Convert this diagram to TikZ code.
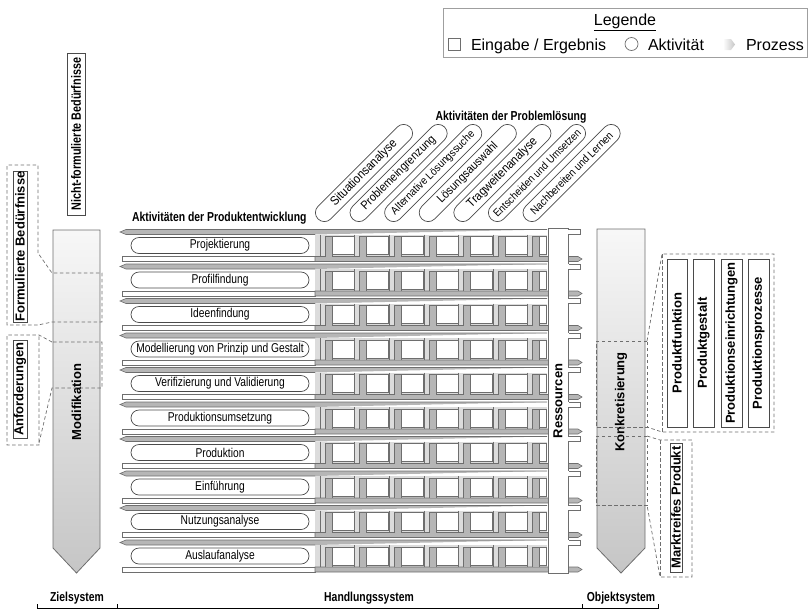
\documentclass[tikz,border=0pt]{standalone}
\usepackage{fontspec}
\setmainfont{Liberation Sans}
\newfontfamily\narrowfont[FakeStretch=0.8]{Liberation Sans}
\newfontfamily\semifont[FakeStretch=0.9]{Liberation Sans}
\usetikzlibrary{calc}

\definecolor{edge}{HTML}{6E6E6E}
\definecolor{darkedge}{HTML}{4A4A4A}
\definecolor{procgrey}{HTML}{B6B6B6}
\definecolor{combgrey}{HTML}{DCDCDC}

\begin{document}
\begin{tikzpicture}[x=1pt,y=-1pt,
  every node/.style={inner sep=0pt,outer sep=0pt},
  frame/.style={draw=edge,line width=0.8pt},
  callout/.style={draw=edge,dash pattern=on 3.5pt off 2.5pt,line width=0.7pt},
  activity/.style={draw=darkedge,fill=white,rounded corners=8pt,line width=0.7pt,
    minimum height=16pt,font=\narrowfont\fontsize{12.8}{14}\selectfont},
  stepact/.style={draw=darkedge,fill=white,rounded corners=9pt,line width=0.7pt,
    minimum height=18pt,minimum width=130pt,rotate=45},
  resultbox/.style={draw=darkedge,fill=white,line width=0.8pt,rotate=90,
    font=\fontsize{13}{15}\selectfont\bfseries},
  headline/.style={font=\narrowfont\fontsize{13}{15}\selectfont\bfseries},
  boldlabel/.style={font=\fontsize{13}{15}\selectfont\bfseries},
  legendtext/.style={font=\fontsize{16}{18}\selectfont}]

\useasboundingbox (0,0) rectangle (808,611);

% ---------- Legend ----------
\draw[draw=gray!75,line width=0.9pt] (443,8) rectangle (807,57);
\node[legendtext,anchor=base] (legtitle) at (625,25) {\underline{Legende}};
\node[draw=edge,minimum size=12pt,line width=0.7pt] (legsq) at (454,44) {};
\node[legendtext,anchor=base west] (legin) at (471,50) {Eingabe / Ergebnis};
\node[draw=edge,circle,minimum size=13pt,line width=0.7pt] (legcirc) at (631.5,44) {};
\node[legendtext,anchor=base west] (legact) at (648,50) {Aktivität};
\shade[left color=white,right color=gray!45] (723,39) -- (731,39) -- (735,44.5) -- (731,50) -- (723,50) -- cycle;
\node[legendtext,anchor=base west] (legproc) at (746,50) {Prozess};

% ---------- Goal system column ----------
\shade[top color=white!97!black,bottom color=gray!45,draw=edge,line width=0.8pt]
  (53,230) -- (100,230) -- (100,548) -- (76.5,573) -- (53,548) -- cycle;
\node[boldlabel,rotate=90] (modi) at (76.5,402) {Modifikation};

\node[draw=darkedge,fill=white,line width=0.8pt,rotate=90,minimum width=162pt,minimum height=18pt,
  font=\narrowfont\fontsize{13.5}{15}\selectfont\bfseries] (nichtform) at (76,134) {Nicht-formulierte Bedürfnisse};
\node[resultbox,minimum width=151pt,minimum height=14pt] (form) at (20,246.5) {Formulierte Bedürfnisse};
\node[resultbox,minimum width=98pt,minimum height=14pt] (anf) at (20,389) {Anforderungen};

% callout: Formulierte Beduerfnisse
\draw[callout] (38,253) -- (38,165) -- (7,165) -- (7,325) -- (38,325) -- (52,322) -- (102,322) -- (102,273) -- (52,273) -- cycle;
% callout: Anforderungen
\draw[callout] (52,342) -- (39,335) -- (7,335) -- (7,445) -- (39,445) -- (39,335);
\draw[callout] (39,443) -- (52,388) -- (102,388) -- (102,342) -- (52,342);

% ---------- Object system column ----------
\shade[top color=white!97!black,bottom color=gray!45,draw=edge,line width=0.8pt]
  (597,229) -- (645,229) -- (645,548) -- (621,573) -- (597,548) -- cycle;
\node[boldlabel,rotate=90] (konk) at (621,402) {Konkretisierung};

\draw[callout] (647,341) -- (596,341) -- (596,427) -- (647,427) -- cycle;
\draw[callout] (647,341) -- (662,254) -- (774,254) -- (774,432) -- (662,432) -- (647,427);
\draw[callout] (662,254) -- (662,432);
\node[resultbox,minimum width=168pt,minimum height=20pt] (pf) at (677,343) {Produktfunktion};
\node[resultbox,minimum width=168pt,minimum height=21pt] (pg) at (703.5,343) {Produktgestalt};
\node[resultbox,minimum width=168pt,minimum height=21pt] (pe) at (731.5,343) {Produktionseinrichtungen};
\node[resultbox,minimum width=168pt,minimum height=21pt] (pp) at (758.5,343) {Produktionsprozesse};

\draw[callout] (647,436) -- (596,436) -- (596,505) -- (647,505) -- cycle;
\draw[callout] (647,436) -- (660,440) -- (692,440) -- (692,577) -- (660,577) -- (647,505);
\draw[callout] (660,440) -- (660,577);
\node[resultbox,minimum width=129pt,minimum height=12pt] (markt) at (676,507.5) {Marktreifes Produkt};

% ---------- Activities of problem solving ----------
\node[headline,anchor=base] (pshead) at (511,120) {Aktivitäten der Problemlösung};
\foreach \lab/\fs [count=\k from 0, evaluate=\k as \px using 364+34.6*\k] in
  {Situationsanalyse/12.5,Problemeingrenzung/12,Alternative Lösungssuche/11,Lösungsauswahl/12,
   Tragweitenanalyse/12.5,Entscheiden und Umsetzen/10.8,Nachbereiten und Lernen/11}
  \node[stepact,font=\semifont\fontsize{\fs}{13}\selectfont] (ps\k) at (\px,173) {\lab};

% ---------- Activities of product development (rows) ----------
\node[headline,anchor=base west] (pdhead) at (132,221.5) {Aktivitäten der Produktentwicklung};

\foreach \lab [count=\i from 0, evaluate=\i as \c using 245.5+34.5*\i] in
  {Projektierung,Profilfindung,Ideenfindung,Modellierung von Prinzip und Gestalt,
   Verifizierung und Validierung,Produktionsumsetzung,Produktion,Einführung,
   Nutzungsanalyse,Auslaufanalyse}
{
  % comb background
  \fill[combgrey] (315,\c-11) rectangle (547,\c+11);
  % white feedback bar on the left
  \draw[frame,fill=white] (122,\c+11) rectangle (315,\c+16);
  % process running to the right along the bottom
  \draw[draw=edge,fill=procgrey,line width=0.6pt]
    (315,\c+11) -- (578,\c+11) -- (582,\c+13.5) -- (578,\c+16) -- (315,\c+16) -- cycle;
  % process running to the left along the top
  \draw[draw=edge,fill=procgrey,line width=0.6pt]
    (547,\c-16) -- (126,\c-16) -- (120,\c-13.5) -- (126,\c-11) -- (315,\c-11);
  % interlocking teeth
  \foreach \k in {0,...,6}
  {
    \pgfmathsetmacro\xa{320+34.6*\k}
    \pgfmathsetmacro\xb{min(320+34.6*\k+34,546)}
    \draw[edge,line width=0.5pt] (\xa,\c-11) -- (\xa,\c+11);
    \draw[edge,fill=procgrey,line width=0.5pt] (\xa+5,\c+11) -- (\xa+5,\c-9) -- (\xa+12,\c-9) -- (\xa+12,\c+11);
    \draw[edge,fill=white,line width=0.5pt] (\xa+12,\c-9) rectangle (\xb,\c+9);
  }
  \node[activity,minimum width=178pt] (pd\i) at (220,\c) {\lab};
}

% ---------- Resources ----------
\foreach \i [evaluate=\i as \c using 245.5+34.5*\i] in {0,...,9}
  \draw[frame,fill=white] (560,\c-16) rectangle (580,\c-11);
\node[draw=edge,fill=white,line width=0.8pt,rotate=90,minimum width=345pt,minimum height=20pt,
  font=\fontsize{13}{15}\selectfont\bfseries] (res) at (558,401) {Ressourcen};
\foreach \i [evaluate=\i as \c using 245.5+34.5*\i] in {0,...,9}
  \fill[white] (567,\c-15.6) rectangle (569,\c-11.4);

% ---------- System brackets ----------
\node[headline,anchor=base] (ziel) at (77,601) {Zielsystem};
\node[headline,anchor=base] (handl) at (369,601) {Handlungssystem};
\node[headline,anchor=base] (objekt) at (621,601) {Objektsystem};
\draw[black,line width=0.8pt] (37,604) -- (37,608) -- (658,608) -- (658,604);
\draw[black,line width=0.8pt] (117,604) -- (117,608);
\draw[black,line width=0.8pt] (582,604) -- (582,608);

\end{tikzpicture}
\end{document}
